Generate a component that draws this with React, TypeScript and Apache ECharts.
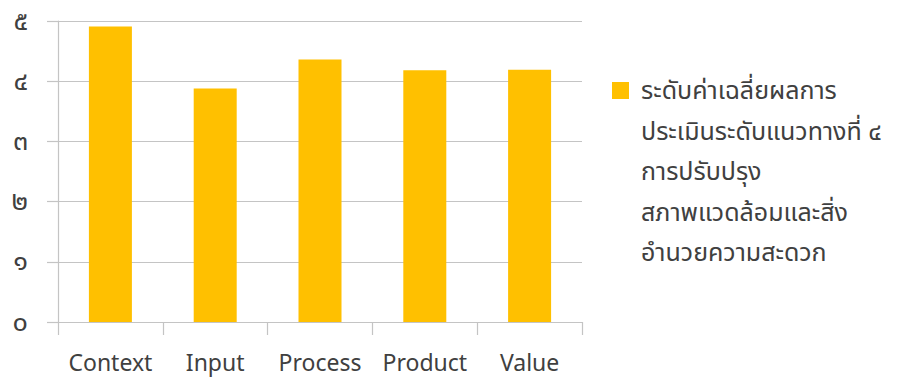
import React, { useEffect, useRef } from "react";
import * as echarts from "echarts";

const categories = ["Context", "Input", "Process", "Product", "Value"];
const values = [4.91, 3.88, 4.36, 4.18, 4.19];
const thaiDigits = ["๐", "๑", "๒", "๓", "๔", "๕", "๖", "๗", "๘", "๙"];
const seriesName =
  "ระดับค่าเฉลี่ยผลการ\nประเมินระดับแนวทางที่ ๔\nการปรับปรุง\nสภาพแวดล้อมและสิ่ง\nอำนวยความสะดวก";

const FONT = "'Noto Sans Thai', 'Noto Sans', 'Open Sans', sans-serif";
const TEXT = "#404040";
const GRID = "#c4c4c4";

export default function App() {
  const ref = useRef<HTMLDivElement>(null);
  useEffect(() => {
    if (!ref.current) return;
    const chart = echarts.init(ref.current, undefined, { renderer: "svg" });
    chart.setOption({
      animation: false,
      grid: { left: 58, right: 322, top: 21, bottom: 59, containLabel: false },
      xAxis: {
        type: "category",
        data: categories,
        boundaryGap: true,
        axisLine: { show: true, lineStyle: { color: GRID, width: 1.2 } },
        axisTick: { show: true, length: 13, lineStyle: { color: GRID, width: 1.2 } },
        axisLabel: { color: TEXT, fontSize: 23, lineHeight: 22, fontFamily: FONT, margin: 31, interval: 0 },
      },
      yAxis: {
        type: "value",
        min: 0,
        max: 5,
        interval: 1,
        axisLine: { show: true, lineStyle: { color: GRID, width: 1.2 } },
        axisTick: { show: true, length: 11, lineStyle: { color: GRID, width: 1.2 } },
        splitLine: { show: true, lineStyle: { color: GRID, width: 1.2 } },
        axisLabel: {
          color: TEXT,
          fontSize: 27,
          fontFamily: FONT,
          margin: 30,
          padding: [14, 0, 0, 0],
          formatter: (v: number) => String(v).split("").map((d) => thaiDigits[Number(d)]).join(""),
        },
      },
      series: [
        {
          name: seriesName,
          type: "bar",
          data: values,
          barWidth: 43,
          itemStyle: { color: "#FFC000" },
        },
      ],
      graphic: [
        {
          type: "rect",
          shape: { x: 612, y: 82, width: 17, height: 17 },
          style: { fill: "#FFC000" },
        },
        {
          type: "text",
          x: 641,
          y: 71,
          style: {
            text: seriesName,
            fill: TEXT,
            font: `25px ${FONT}`,
            lineHeight: 40.5,
            textVerticalAlign: "top",
          },
        },
      ],
    });
    return () => chart.dispose();
  }, []);
  return <div ref={ref} style={{ width: 904, height: 381, position: "absolute", left: 0, top: 0 }} />;
}
